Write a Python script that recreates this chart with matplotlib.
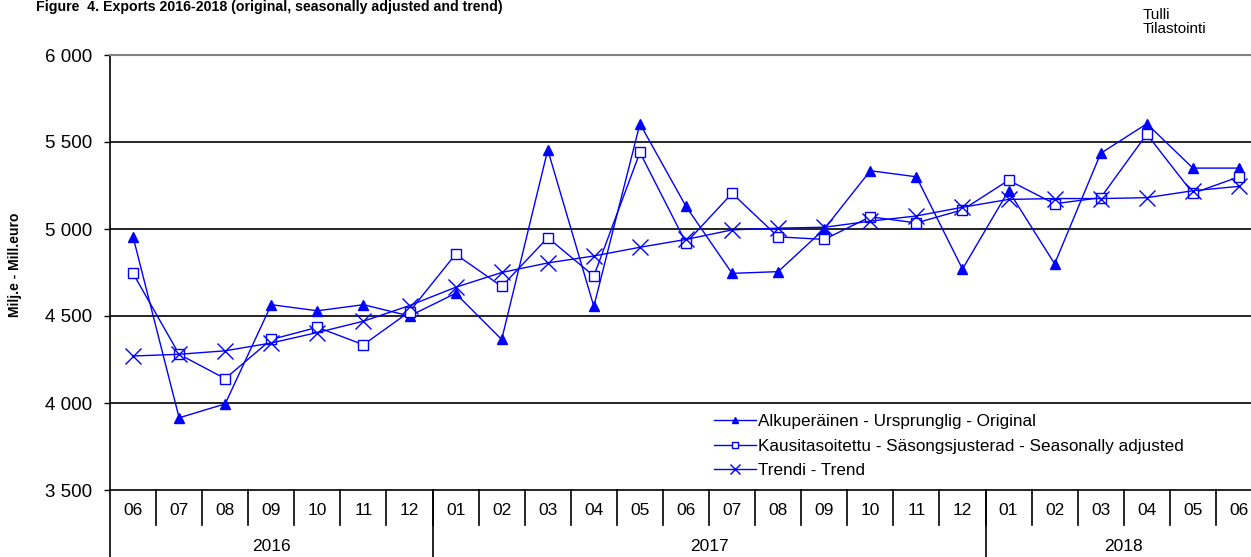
import numpy as np
import matplotlib
matplotlib.use('Agg')
import matplotlib.pyplot as plt
from matplotlib.transforms import blended_transform_factory

plt.rcParams['font.family'] = ['Liberation Sans', 'DejaVu Sans']

# data (million euro), months 2016-06 .. 2018-06
MONTHS = ['06', '07', '08', '09', '10', '11', '12',
          '01', '02', '03', '04', '05', '06', '07', '08', '09', '10', '11', '12',
          '01', '02', '03', '04', '05', '06']
YEARS = ['2016', '2017', '2018']
YEAR_SPANS = [(0, 7), (7, 19), (19, 25)]

original = [4955, 3915, 3995, 4565, 4530, 4565, 4500,
            4630, 4365, 5455, 4555, 5605, 5130, 4745, 4755, 5000, 5335, 5300, 4770,
            5220, 4800, 5435, 5605, 5350, 5350]
seas_adj = [4745, 4280, 4140, 4365, 4435, 4335, 4525,
            4855, 4670, 4950, 4730, 5440, 4920, 5205, 4955, 4940, 5070, 5035, 5110,
            5280, 5145, 5180, 5545, 5205, 5300]
trend = [4270, 4280, 4300, 4345, 4405, 4470, 4560,
         4665, 4750, 4805, 4845, 4895, 4940, 4995, 5005, 5010, 5045, 5075, 5125,
         5170, 5175, 5175, 5180, 5220, 5245]

LABELS = ['Alkuperäinen - Ursprunglig - Original',
          'Kausitasoitettu - Säsongsjusterad - Seasonally adjusted',
          'Trendi - Trend']

W, H = 1251, 557
fig = plt.figure(figsize=(W / 100, H / 100), dpi=100)
ax = fig.add_axes([110 / W, (H - 490) / H, 1152 / W, 435 / H])

x = np.arange(len(MONTHS))
blue = '#0000ff'
l1, = ax.plot(x, original, color=blue, lw=1.0, marker='^', ms=7.5, mfc=blue, mec=blue, clip_on=False, zorder=3)
l2, = ax.plot(x, seas_adj, color=blue, lw=1.0, marker='s', ms=7, mfc='white', mec=blue, mew=1.0, clip_on=False, zorder=3)
l3, = ax.plot(x, trend, color=blue, lw=1.0, marker='x', ms=11, mec=blue, mew=1.0, clip_on=False, zorder=3)

ax.set_xlim(-0.5, len(MONTHS) - 0.5)
ax.set_ylim(3500, 6000)
yt = np.arange(3500, 6001, 500)
ax.set_yticks(yt)
ax.set_yticklabels([f'{v:,}'.replace(',', ' ') for v in yt], fontsize=13.5)
ax.tick_params(axis='y', length=4.5, width=1, direction='out', pad=8.5)
ax.set_xticks([])
for v in yt[1:-1]:
    ax.axhline(v, color='black', lw=1.2, zorder=1)

ax.spines['right'].set_visible(False)
ax.spines['top'].set_color('#808080')
ax.spines['top'].set_linewidth(1.5)
ax.spines['bottom'].set_linewidth(1.2)
ax.spines['left'].set_linewidth(1.2)

# month/year category axis
tr = blended_transform_factory(ax.transData, ax.transAxes)
for i, m in enumerate(MONTHS):
    ax.text(i, -0.046, m, transform=tr, ha='center', va='center', fontsize=12.5)
    if i > 0:
        ax.plot([i - 0.5, i - 0.5], [0, -0.08], transform=tr, color='black', lw=1.2, clip_on=False)
for (a, b), yr in zip(YEAR_SPANS, YEARS):
    ax.text((a + b - 1) / 2, -0.131, yr, transform=tr, ha='center', va='center', fontsize=12.5)
    ax.plot([a - 0.5, a - 0.5], [0, -0.2], transform=tr, color='black', lw=1.2, clip_on=False)

leg = ax.legend([l1, l2, l3], LABELS, loc='upper left',
                bbox_to_anchor=(714 / W, (H - 414) / H), bbox_transform=fig.transFigure,
                frameon=False, fontsize=12.3, markerscale=0.6, handlelength=2.45,
                handletextpad=0.12, labelspacing=0.56, borderpad=0, borderaxespad=0)

fig.text(15 / W, (H - 265) / H, 'Milj.e - Mill.euro', rotation=90, ha='center', va='center',
         fontsize=10, fontweight='bold')
fig.text(36 / W, 1 - 7 / H, 'Figure  4. Exports 2016-2018 (original, seasonally adjusted and trend)',
         ha='left', va='center', fontsize=10.2, fontweight='bold')
fig.text(1143 / W, 1 - 8 / H, 'Tulli\nTilastointi', ha='left', va='top', fontsize=11,
         linespacing=1.0)

fig.savefig('out.png', dpi=100)
